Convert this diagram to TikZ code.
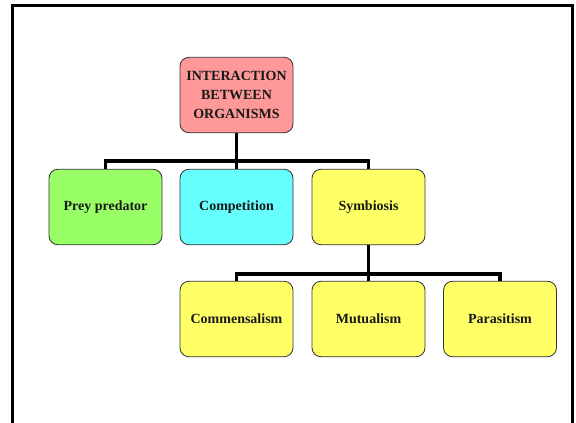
\documentclass[tikz,border=0pt]{standalone}
\usepackage{fontspec}
\setmainfont{Liberation Serif}
\definecolor{rootpink}{HTML}{FF9999}
\definecolor{boxgreen}{HTML}{99FF66}
\definecolor{boxcyan}{HTML}{66FFFF}
\definecolor{boxyellow}{HTML}{FFFF66}
\definecolor{edgegrey}{HTML}{333333}
\begin{document}
\begin{tikzpicture}[x=1pt,y=-1pt,
  box/.style={draw=edgegrey, line width=0.8pt, rounded corners=9pt,
    minimum width=113pt, minimum height=75.5pt, align=center, inner sep=1pt,
    font=\fontsize{14}{18.8}\selectfont\bfseries, text=black!90},
  conn/.style={line width=3.3pt, black},
  frame/.style={line width=3pt, black}]
\useasboundingbox (0,0) rectangle (576,423);
\fill[white] (0,0) rectangle (576,423);
\draw[frame] (12.5,423) -- (12.5,5.5) -- (572.5,5.5) -- (572.5,423);
% nodes
\node[box, fill=rootpink] (root) at (236.5,95) {INTERACTION\\BETWEEN\\ORGANISMS};
\node[box, fill=boxgreen] (prey) at (105.5,207) {Prey predator};
\node[box, fill=boxcyan] (comp) at (236.5,207) {Competition};
\node[box, fill=boxyellow] (symb) at (368.5,207) {Symbiosis};
\node[box, fill=boxyellow] (comm) at (236.5,319) {Commensalism};
\node[box, fill=boxyellow] (mutu) at (368.5,319) {Mutualism};
\node[box, fill=boxyellow] (para) at (500,319) {Parasitism};
\coordinate (bus1) at (0,161);
\coordinate (bus2) at (0,274);
% connectors
\draw[conn] (root.south) -- (root.south |- bus1);
\draw[conn] (prey.north) -- (prey.north |- bus1) -| (symb.north);
\draw[conn] (comp.north) -- (comp.north |- bus1);
\draw[conn] (symb.south) -- (symb.south |- bus2);
\draw[conn] (comm.north) -- (comm.north |- bus2) -| (para.north);
\draw[conn] (mutu.north) -- (mutu.north |- bus2);
\end{tikzpicture}
\end{document}
